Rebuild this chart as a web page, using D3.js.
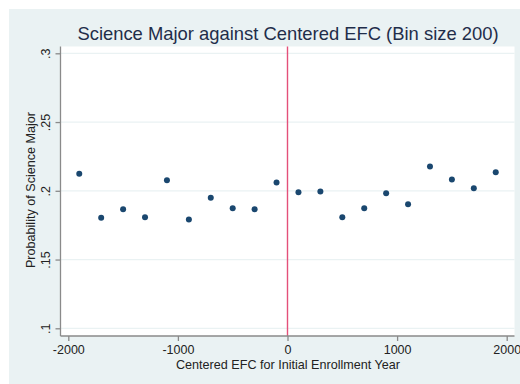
<!DOCTYPE html>
<html>
<head>
<meta charset="utf-8">
<script src="https://cdn.jsdelivr.net/npm/d3@7"></script>
<style>
  html, body { margin: 0; padding: 0; background: #ffffff; }
  svg { display: block; }
  text { font-family: "Liberation Sans", Arial, sans-serif; }
</style>
</head>
<body>
<svg id="chart" width="520" height="384"></svg>
<script>
// Bin midpoints of centered EFC (bin size 200)
const binCenters = [-1900, -1700, -1500, -1300, -1100, -900, -700, -500, -300, -100,
                    100, 300, 500, 700, 900, 1100, 1300, 1500, 1700, 1900];
// Share of students in each bin who major in science
const scienceShare = [0.2124, 0.1804, 0.1866, 0.1808, 0.2077, 0.1791, 0.1949, 0.1873, 0.1866, 0.2060,
                      0.1990, 0.1995, 0.1808, 0.1873, 0.1983, 0.1903, 0.2177, 0.2082, 0.2019, 0.2135];
const xTicks = [-2000, -1000, 0, 1000, 2000];
const yTicks = [0.1, 0.15, 0.2, 0.25, 0.3];
const yTickLabels = [".1", ".15", ".2", ".25", ".3"];
const cutoff = 0;

const titleText = "Science Major against Centered EFC (Bin size 200)";
const xTitle = "Centered EFC for Initial Enrollment Year";
const yTitle = "Probability of Science Major";

const svg = d3.select("#chart");

// Graph region and plot region
const graph = { x0: 9, y0: 9, x1: 520, y1: 384 };
const plot = { left: 60.5, right: 514.5, top: 46.5, bottom: 336 };

const x = d3.scaleLinear().domain([-2000, 2000]).range([68.3, 506.7]);
const y = d3.scaleLinear().domain([0.1, 0.3]).range([328.3, 53.3]);

const bg = "#eaf2f3";

svg.append("rect")
  .attr("x", graph.x0).attr("y", graph.y0)
  .attr("width", graph.x1 - graph.x0).attr("height", graph.y1 - graph.y0)
  .attr("fill", bg);

svg.append("rect")
  .attr("x", plot.left).attr("y", plot.top)
  .attr("width", plot.right - plot.left).attr("height", plot.bottom - plot.top)
  .attr("fill", "#ffffff");

// Horizontal grid lines
svg.append("g")
  .selectAll("line")
  .data(yTicks)
  .join("line")
  .attr("x1", plot.left).attr("x2", plot.right)
  .attr("y1", d => y(d)).attr("y2", d => y(d))
  .attr("stroke", bg).attr("stroke-width", 1.2);

// Vertical reference line at the cutoff
svg.append("line")
  .attr("x1", x(cutoff)).attr("x2", x(cutoff))
  .attr("y1", plot.top).attr("y2", plot.bottom)
  .attr("stroke", "#e4507a").attr("stroke-width", 1.4);

// Y axis
const yAxis = d3.axisLeft(y)
  .tickValues(yTicks)
  .tickFormat((d, i) => yTickLabels[i])
  .tickSize(5)
  .tickPadding(4);
const gy = svg.append("g")
  .attr("transform", `translate(${plot.left},0)`)
  .call(yAxis);
gy.select(".domain").attr("d", `M0,${plot.top}V${plot.bottom}`);
gy.selectAll(".domain, .tick line").attr("stroke", "#8a8a8a").attr("stroke-width", 1.3);
gy.selectAll(".tick text")
  .attr("x", 0).attr("dy", null).attr("dx", null)
  .attr("transform", "translate(-11,0) rotate(-90)")
  .attr("text-anchor", "middle")
  .attr("font-size", 12.5)
  .attr("fill", "#222222");

// X axis
const xAxis = d3.axisBottom(x)
  .tickValues(xTicks)
  .tickFormat(d3.format("d"))
  .tickSize(5)
  .tickPadding(4);
const gx = svg.append("g")
  .attr("transform", `translate(0,${plot.bottom})`)
  .call(xAxis);
gx.select(".domain").attr("d", `M${plot.left},0H${plot.right}`);
gx.selectAll(".domain, .tick line").attr("stroke", "#8a8a8a").attr("stroke-width", 1.3);
gx.selectAll(".tick text")
  .attr("font-size", 12.5)
  .attr("fill", "#222222");
gx.selectAll(".tick text").text(d => d < 0 ? "-" + Math.abs(d) : String(d));

// Binned means
svg.append("g")
  .selectAll("circle")
  .data(binCenters.map((c, i) => ({ c, v: scienceShare[i] })))
  .join("circle")
  .attr("cx", d => x(d.c))
  .attr("cy", d => y(d.v))
  .attr("r", 3)
  .attr("fill", "#1a476f");

// Titles
svg.append("text")
  .attr("x", 288).attr("y", 39.5)
  .attr("text-anchor", "middle")
  .attr("font-size", 18.4)
  .attr("fill", "#1f2d4a")
  .text(titleText);

svg.append("text")
  .attr("x", 288).attr("y", 369)
  .attr("text-anchor", "middle")
  .attr("font-size", 12.6)
  .attr("fill", "#222222")
  .text(xTitle);

svg.append("text")
  .attr("transform", "translate(35,190) rotate(-90)")
  .attr("text-anchor", "middle")
  .attr("font-size", 12.6)
  .attr("fill", "#222222")
  .text(yTitle);
</script>
</body>
</html>
